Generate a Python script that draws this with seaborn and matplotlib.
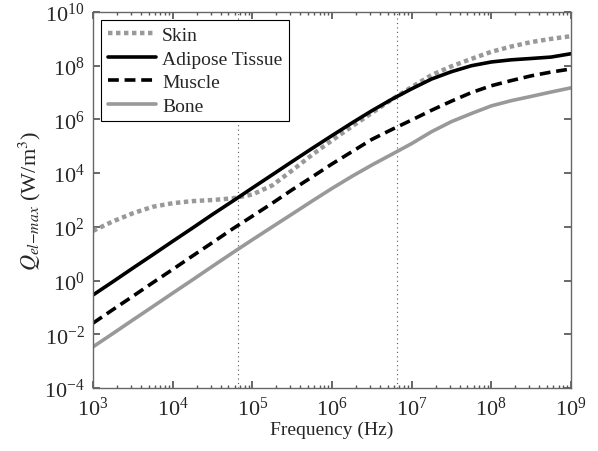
import matplotlib
matplotlib.use("Agg")
import matplotlib.pyplot as plt
import seaborn as sns
import pandas as pd
from matplotlib.ticker import FixedLocator, LogLocator, LogFormatterMathtext, NullFormatter, NullLocator

# frequency grid (Hz)
freq = [1e3, 1.78e3, 3.16e3, 5.62e3, 1e4, 1.78e4, 3.16e4, 5.62e4,
        1e5, 1.78e5, 3.16e5, 5.62e5, 1e6, 1.78e6, 3.16e6, 5.62e6,
        1e7, 1.78e7, 3.16e7, 5.62e7, 1e8, 1.78e8, 3.16e8, 5.62e8, 1e9]

# Q_el-max (W/m^3) per tissue
skin = [7.1e1, 1.6e2, 3.2e2, 5.6e2, 7.6e2, 9.1e2, 1.0e3, 1.15e3,
        1.6e3, 3.5e3, 1.26e4, 4.8e4, 1.66e5, 5.5e5, 1.74e6, 5.5e6,
        1.6e7, 4.5e7, 9.5e7, 1.8e8, 3.3e8, 5.2e8, 7.6e8, 1.0e9, 1.26e9]
adipose = [2.9e-1, 9.1e-1, 2.9e0, 9.1e0, 2.9e1, 9.1e1, 2.9e2, 8.9e2,
           2.8e3, 8.7e3, 2.7e4, 8.3e4, 2.5e5, 7.4e5, 2.1e6, 5.6e6,
           1.38e7, 3.2e7, 6.0e7, 1.0e8, 1.38e8, 1.66e8, 1.86e8, 2.1e8, 2.8e8]
muscle = [2.6e-2, 8.3e-2, 2.6e-1, 8.3e-1, 2.6e0, 8.3e0, 2.6e1, 8.3e1,
          2.5e2, 7.6e2, 2.4e3, 7.2e3, 2.2e4, 6.3e4, 1.8e5, 4.2e5,
          9.5e5, 2.2e6, 4.8e6, 1.0e7, 1.8e7, 2.8e7, 4.2e7, 5.8e7, 7.6e7]
bone = [3.4e-3, 1.07e-2, 3.4e-2, 1.07e-1, 3.4e-1, 1.07e0, 3.4e0, 1.07e1,
        3.3e1, 1.0e2, 3.0e2, 9.1e2, 2.7e3, 7.6e3, 2.0e4, 5.0e4,
        1.26e5, 3.5e5, 8.3e5, 1.66e6, 3.2e6, 5.0e6, 7.2e6, 1.05e7, 1.5e7]

# tick values and dotted markers on the frequency axis
xticks = [1e3, 1e4, 1e5, 1e6, 1e7, 1e8, 1e9]
yticks = [1e-4, 1e-2, 1e0, 1e2, 1e4, 1e6, 1e8, 1e10]
vlines = [6.6e4, 6.5e6]

series = [
    ("Skin", skin, "#999999", (0, (1, 0.8)), 3.2),
    ("Adipose Tissue", adipose, "black", "-", 2.6),
    ("Muscle", muscle, "black", (0, (3, 1.6)), 2.6),
    ("Bone", bone, "#999999", "-", 2.6),
]

sns.set_theme(style="ticks")
plt.rcParams["font.family"] = ["Liberation Serif", "DejaVu Serif"]
plt.rcParams["mathtext.fontset"] = "stix"

fig = plt.figure(figsize=(5.98, 4.52), dpi=100)
ax = fig.add_axes([0.1555, 0.1394, 0.7993, 0.8318])

for name, vals, color, ls, lw in series:
    df = pd.DataFrame({"f": freq, "q": vals})
    sns.lineplot(data=df, x="f", y="q", ax=ax, color=color, linestyle=ls,
                 linewidth=lw, label=name)

for v in vlines:
    ax.axvline(v, color="#555555", linestyle=(0, (1, 3)), linewidth=0.8, zorder=0)

ax.set_xscale("log")
ax.set_yscale("log")
ax.set_xlim(1e3, 1e9)
ax.set_ylim(1e-4, 1e10)

ax.xaxis.set_major_locator(FixedLocator(xticks))
ax.xaxis.set_minor_locator(LogLocator(base=10, subs=range(2, 10), numticks=50))
ax.xaxis.set_minor_formatter(NullFormatter())
ax.xaxis.set_major_formatter(LogFormatterMathtext(base=10))
ax.yaxis.set_major_locator(FixedLocator(yticks))
ax.yaxis.set_major_formatter(LogFormatterMathtext(base=10))
ax.yaxis.set_minor_locator(NullLocator())

ax.tick_params(which="both", direction="in", top=True, right=True,
               color="#555555", labelsize=16, pad=6)
ax.tick_params(which="major", length=5)
ax.tick_params(which="minor", length=2.5)
for sp in ax.spines.values():
    sp.set_color("#666666")
    sp.set_linewidth(1.0)

ax.set_xlabel("Frequency (Hz)", fontsize=14, labelpad=1)
ax.set_ylabel("$Q_{el\\mathrm{-}max}$ (W/m$^3$)", fontsize=16, labelpad=1)

leg = ax.legend(loc="upper left", fontsize=14, frameon=True, fancybox=False,
                handlelength=2.5, handletextpad=0.3, borderpad=0.35,
                labelspacing=0.3, borderaxespad=0.4)
leg.get_frame().set_edgecolor("black")
leg.get_frame().set_linewidth(0.8)
leg.get_frame().set_alpha(1)

fig.savefig("out.png", dpi=100)
